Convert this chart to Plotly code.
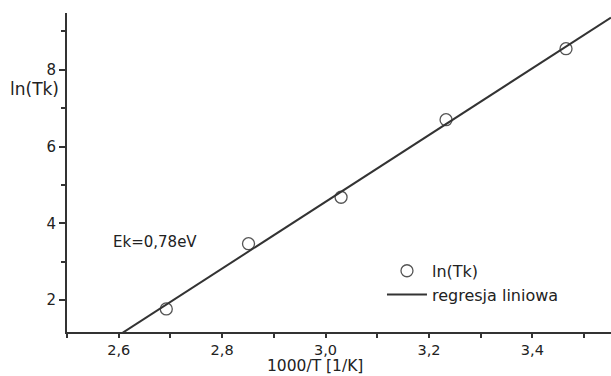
import numpy as np
import plotly.graph_objects as go

# Data
inv_T = [2.692, 2.851, 3.030, 3.233, 3.465]      # 1000/T [1/K]
ln_Tk = [1.77, 3.47, 4.68, 6.70, 8.55]           # ln(Tk)
x_ticks = [2.6, 2.8, 3.0, 3.2, 3.4]
y_ticks = [2, 4, 6, 8]
x_range = [2.5, 3.552]
y_range = [1.17, 9.48]
energy_label = "Ek=0,78eV"

# linear regression from the data
slope, intercept = np.polyfit(inv_T, ln_Tk, 1)
fit_x = np.array(x_range)
fit_y = slope * fit_x + intercept

FONT = "DejaVu Sans, Liberation Sans, Arial, sans-serif"
AX = "#333333"
TXT = "#222222"

fig = go.Figure()
fig.add_trace(go.Scatter(
    x=inv_T, y=ln_Tk, mode="markers", name="ln(Tk)",
    marker=dict(symbol="circle-open", size=12, color="#555555",
                line=dict(width=1.3, color="#555555")),
))
fig.add_trace(go.Scatter(
    x=fit_x, y=fit_y, mode="lines", name="regresja liniowa",
    line=dict(color="#333333", width=2),
))

fig.update_layout(
    width=611, height=376,
    margin=dict(l=67, r=0, t=13, b=44),
    paper_bgcolor="white", plot_bgcolor="white",
    separators=", ",
    font=dict(family=FONT, size=16, color=TXT),
    showlegend=True,
    legend=dict(x=0.579, y=0.245, xanchor="left", yanchor="top",
                bgcolor="rgba(0,0,0,0)", font=dict(size=16, color=TXT),
                tracegroupgap=0, itemwidth=40),
    xaxis=dict(range=x_range, tickvals=x_ticks, tickformat=".1f",
               showgrid=False, zeroline=False, showline=True,
               linecolor=AX, linewidth=2, ticks="outside", ticklen=4,
               tickwidth=1.5, tickcolor=AX,
               minor=dict(dtick=0.1, tick0=2.5, ticks="outside", ticklen=4,
                          tickwidth=1.5, tickcolor=AX, showgrid=False),
               tickfont=dict(size=14.5)),
    yaxis=dict(range=y_range, tickvals=y_ticks,
               showgrid=False, zeroline=False, showline=True,
               linecolor=AX, linewidth=2, ticks="outside", ticklen=6,
               tickwidth=1.5, tickcolor=AX,
               minor=dict(dtick=1, tick0=1, ticks="outside", ticklen=4,
                          tickwidth=1.5, tickcolor=AX, showgrid=False),
               tickfont=dict(size=15)),
    annotations=[
        dict(text="1000/T [1/K]", xref="x", yref="paper", x=2.98, y=0,
             xanchor="center", yanchor="middle", yshift=-34,
             showarrow=False, font=dict(size=15.5)),
        dict(text="ln(Tk)", xref="paper", yref="paper",
             x=(34 - 67) / 544, y=(332 - 89) / 319,
             xanchor="center", yanchor="middle",
             showarrow=False, font=dict(size=17)),
        dict(text=energy_label, xref="paper", yref="paper",
             x=(155 - 67) / 544, y=(332 - 242) / 319,
             xanchor="center", yanchor="middle",
             showarrow=False, font=dict(size=15)),
    ],
)

fig.write_html("out.html",
               config={"displayModeBar": False},
               post_script="document.body.style.margin='0';")
